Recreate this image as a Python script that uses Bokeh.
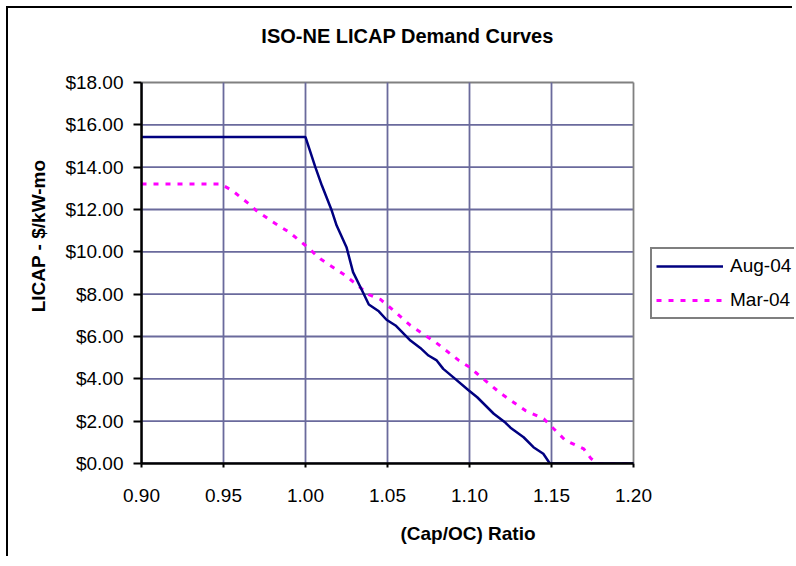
from bokeh.plotting import figure
from bokeh.models import FixedTicker, NumeralTickFormatter, Legend, LegendItem, Label
from bokeh.embed import file_html
from bokeh.resources import INLINE

# ---- data ----
title_text = "ISO-NE LICAP Demand Curves"
x_label = "(Cap/OC) Ratio"
y_label = "LICAP - $/kW-mo"

aug_name = "Aug-04"
aug_x = [0.900, 1.000, 1.006, 1.010, 1.016, 1.019, 1.025, 1.029, 1.0345, 1.0386, 1.0447,
         1.0494, 1.0549, 1.064, 1.070, 1.075, 1.080, 1.084, 1.090, 1.0996, 1.1047, 1.1148,
         1.122, 1.125, 1.133, 1.139, 1.145, 1.149, 1.200]
aug_y = [15.42, 15.42, 14.00, 13.13, 11.95, 11.24, 10.22, 9.04, 8.17, 7.51, 7.19,
         6.79, 6.52, 5.81, 5.46, 5.10, 4.87, 4.47, 4.08, 3.45, 3.13, 2.35,
         1.92, 1.69, 1.24, 0.77, 0.46, 0.00, 0.00]

mar_name = "Mar-04"
mar_x = [0.900, 0.948, 0.9553, 0.9604, 0.9655, 0.970, 0.9797, 0.990, 1.000, 1.009, 1.0244,
         1.0386, 1.0457, 1.0549, 1.064, 1.0793, 1.0935, 1.100, 1.1047, 1.1189, 1.1341,
         1.1453, 1.1585, 1.1697, 1.174, 1.178, 1.200]
mar_y = [13.21, 13.21, 12.90, 12.58, 12.27, 11.95, 11.43, 10.93, 10.30, 9.67, 8.88,
         7.98, 7.75, 7.15, 6.52, 5.73, 4.87, 4.55, 4.24, 3.32, 2.50,
         2.11, 1.09, 0.69, 0.24, 0.00, 0.00]

x_ticks = [0.90, 0.95, 1.00, 1.05, 1.10, 1.15, 1.20]
y_ticks = [0, 2, 4, 6, 8, 10, 12, 14, 16, 18]

FONT = "Liberation Sans"
SHIFT = 8    # canvas offset inside the page (outer chart border drawn by CSS shadow)
RIGHT = 794  # canvas right edge in the page
H = 550      # canvas height

# plot area in page pixels: x 141..633, y 82..463; the frame is extended
# up to the canvas top and right edge so the title/legend are not clipped
X0, X1 = x_ticks[0], x_ticks[-1]
Y0, Y1 = y_ticks[0], y_ticks[-1]
px_per_x = (633 - 141) / (X1 - X0)
px_per_y = (463 - 82) / (Y1 - Y0)
x_end = X1 + (RIGHT - 633) / px_per_x
y_end = Y1 + (82 - SHIFT) / px_per_y

p = figure(width=RIGHT - SHIFT, height=H, x_range=(X0, x_end), y_range=(Y0, y_end),
           output_backend="svg", toolbar_location=None,
           min_border_left=141 - SHIFT, min_border_right=0, min_border_top=0,
           min_border_bottom=SHIFT + H - 463)
p.margin = (SHIFT, 0, 0, SHIFT)
p.styles = {"box-shadow": "-2px -2px 0px 0px black"}
p.background_fill_color = "white"
p.border_fill_color = "white"
p.outline_line_color = None
p.xgrid.visible = False
p.ygrid.visible = False

GRID = "#6A6A9C"
EDGE = "#808080"
# horizontal grid lines (plot-area top edge in grey)
p.segment(x0=[X0] * len(y_ticks), x1=[X1] * len(y_ticks), y0=y_ticks, y1=y_ticks,
          line_color=[EDGE if t == Y1 else GRID for t in y_ticks], line_width=1.8)
# vertical grid lines (plot-area right edge in grey)
p.segment(x0=x_ticks, x1=x_ticks, y0=[Y0] * len(x_ticks), y1=[Y1] * len(x_ticks),
          line_color=[EDGE if t == X1 else GRID for t in x_ticks], line_width=1.8)

# axes
p.xaxis.ticker = FixedTicker(ticks=x_ticks)
p.yaxis.ticker = FixedTicker(ticks=y_ticks)
p.xaxis.bounds = (X0, X1)
p.yaxis.bounds = (Y0, Y1)
p.xaxis.formatter = NumeralTickFormatter(format="0.00")
p.yaxis.formatter = NumeralTickFormatter(format="$0.00")
for ax in (p.xaxis[0], p.yaxis[0]):
    ax.axis_line_color = "black"
    ax.axis_line_width = 2.5
    ax.major_tick_line_color = "black"
    ax.major_tick_line_width = 2
    ax.minor_tick_line_color = None
    ax.major_tick_in = 0
    ax.major_label_text_font = FONT
    ax.major_label_text_font_size = "19px"
    ax.major_label_text_color = "black"
    ax.axis_label_text_font = FONT
    ax.axis_label_text_font_size = "19px"
    ax.axis_label_text_font_style = "bold"
    ax.axis_label_text_color = "black"
p.xaxis.major_tick_out = 4
p.yaxis.major_tick_out = 8
p.xaxis.major_label_standoff = 21
p.yaxis.major_label_standoff = 10
p.xaxis.axis_label = x_label
p.yaxis.axis_label = y_label
p.xaxis.axis_label_standoff = 18
p.yaxis.axis_label_standoff = 13

# series
r_mar = p.line(mar_x, mar_y, line_color="#FF00FF", line_width=3, line_dash="5 7")
r_aug = p.line(aug_x, aug_y, line_color="#000080", line_width=2.5)

# title
p.add_layout(Label(x=(X0 + X1) / 2, y=Y1, x_offset=20, y_offset=47, text=title_text,
                   text_font=FONT, text_font_size="20px", text_font_style="bold",
                   text_align="center", text_baseline="middle", text_color="black"))

# legend
legend = Legend(items=[LegendItem(label=aug_name, renderers=[r_aug]),
                       LegendItem(label=mar_name, renderers=[r_mar])],
                location=(509, 144), orientation="vertical",
                padding=4, spacing=8, margin=0,
                glyph_width=67, glyph_height=26, label_height=26,
                label_standoff=7,
                label_text_font=FONT, label_text_font_size="19px",
                label_text_color="black",
                border_line_color="black", border_line_width=2,
                background_fill_color="white", background_fill_alpha=1)
p.add_layout(legend)

open("out.html", "w").write(file_html(p, INLINE))
